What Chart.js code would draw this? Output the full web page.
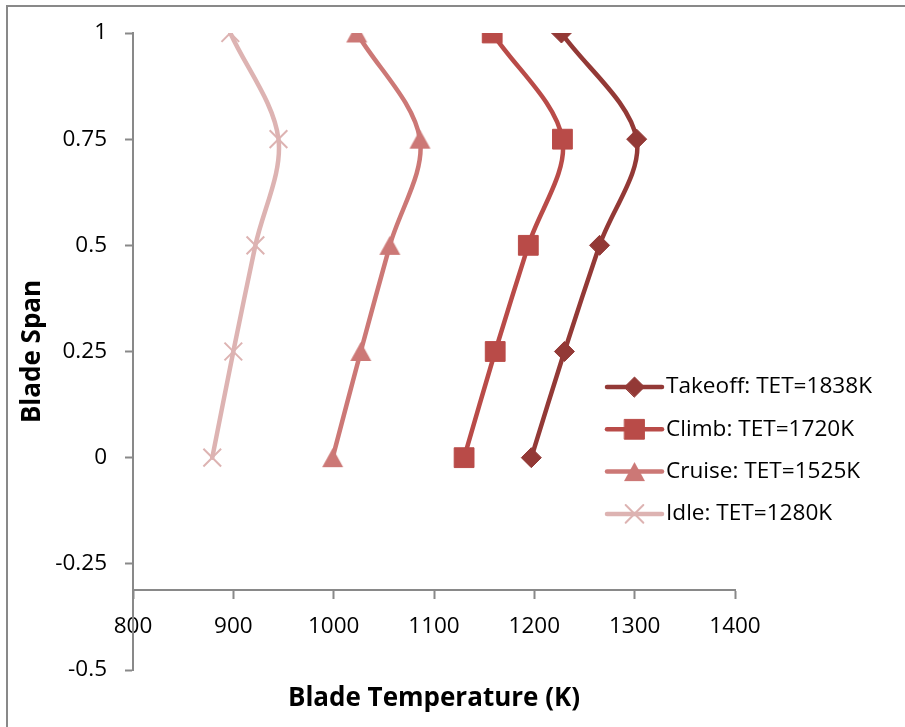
<!DOCTYPE html>
<html>
<head>
<meta charset="utf-8">
<script src="https://cdn.jsdelivr.net/npm/chart.js@4/dist/chart.umd.min.js"></script>
<style>
  html, body { margin: 0; padding: 0; background: #fff; overflow: hidden; }
  #wrap { position: relative; width: 905px; height: 727px; }
</style>
</head>
<body>
<div id="wrap"><canvas id="chart"></canvas></div>
<script>
// Blade span stations (fraction of span, hub = 0, tip = 1)
const spans = [0, 0.25, 0.5, 0.75, 1];

// Blade temperature (K) at each span station, per operating point
const takeoffTemp = [1197, 1230, 1265, 1302, 1227];
const climbTemp   = [1130, 1161, 1194, 1228, 1158];
const cruiseTemp  = [999, 1027, 1056, 1086, 1023];
const idleTemp    = [879, 900, 922, 945, 897];

const seriesNames = [
  'Takeoff: TET=1838K',
  'Climb: TET=1720K',
  'Cruise: TET=1525K',
  'Idle: TET=1280K'
];

// Axis ranges and tick spacing
const xMin = 800, xMax = 1400, xStep = 100;
const yMin = -0.5, yMax = 1, yStep = 0.25;
const xAxisCrossing = -0.3125;

const toPoints = (temps) => temps.map((t, i) => ({ x: t, y: spans[i] }));

// Triangle marker centred on its bounding box (not its centroid)
function triangleMarker(color, w, h) {
  const c = document.createElement('canvas');
  c.width = w + 2;
  c.height = h + 2;
  const g = c.getContext('2d');
  g.fillStyle = color;
  g.beginPath();
  g.moveTo(c.width / 2, 1);
  g.lineTo(c.width - 1, h + 1);
  g.lineTo(1, h + 1);
  g.closePath();
  g.fill();
  return c;
}

const styles = [
  { color: '#933936', pointStyle: 'rectRot', radius: 10, pbw: 1 },
  { color: '#B94B48', pointStyle: 'rect', radius: 14, pbw: 1 },
  { color: '#CC7876', pointStyle: triangleMarker('#CC7876', 21, 19), radius: 11, pbw: 1 },
  { color: '#DDB3B2', pointStyle: 'crossRot', radius: 12.5, pbw: 2 }
];
const seriesTemps = [takeoffTemp, climbTemp, cruiseTemp, idleTemp];

const datasets = seriesTemps.map((temps, i) => ({
  label: seriesNames[i],
  data: toPoints(temps),
  showLine: true,
  tension: 0.33,
  borderColor: styles[i].color,
  backgroundColor: styles[i].color,
  borderWidth: 4.5,
  borderCapStyle: 'round',
  borderJoinStyle: 'round',
  pointStyle: styles[i].pointStyle,
  pointRadius: styles[i].radius,
  pointHoverRadius: styles[i].radius,
  pointBackgroundColor: styles[i].color,
  pointBorderColor: styles[i].color,
  pointBorderWidth: styles[i].pbw
}));

// Gray frame around the chart
const framePlugin = {
  id: 'frame',
  beforeDraw(chart) {
    const ctx = chart.ctx;
    ctx.save();
    ctx.fillStyle = '#ffffff';
    ctx.fillRect(0, 0, chart.width, chart.height);
    ctx.strokeStyle = '#898989';
    ctx.lineWidth = 2;
    ctx.strokeRect(7, 6, chart.width + 20, chart.height + 20);
    ctx.restore();
  }
};

// Legend drawn inside the plot, lower right
const sideLegend = {
  id: 'sideLegend',
  afterDraw(chart) {
    const { ctx, chartArea } = chart;
    const x0 = chartArea.right - 128;
    const y0 = chartArea.top + 354;
    const rowGap = 42.3;
    const sampleLen = 55;
    ctx.save();
    chart.data.datasets.forEach((ds, i) => {
      const y = y0 + i * rowGap;
      ctx.strokeStyle = ds.borderColor;
      ctx.lineWidth = ds.borderWidth;
      ctx.lineCap = 'round';
      ctx.beginPath();
      ctx.moveTo(x0, y);
      ctx.lineTo(x0 + sampleLen, y);
      ctx.stroke();
      ctx.fillStyle = ds.pointBackgroundColor;
      ctx.strokeStyle = ds.pointBorderColor;
      ctx.lineWidth = ds.pointBorderWidth;
      Chart.helpers.drawPoint(ctx, {
        pointStyle: ds.pointStyle,
        radius: ds.pointRadius,
        borderWidth: ds.pointBorderWidth,
        rotation: 0
      }, x0 + sampleLen / 2, y);
      ctx.fillStyle = '#000000';
      ctx.font = '22.6px "Open Sans"';
      ctx.textAlign = 'left';
      ctx.textBaseline = 'middle';
      ctx.fillText(ds.label, x0 + sampleLen + 4, y);
    });
    ctx.restore();
  }
};

Chart.defaults.font.family = '"Open Sans", sans-serif';
Chart.defaults.color = '#000000';

new Chart(document.getElementById('chart'), {
  type: 'scatter',
  data: { datasets },
  options: {
    responsive: true,
    maintainAspectRatio: false,
    animation: false,
    layout: { padding: { left: 0, top: 33, right: 170, bottom: 57 } },
    plugins: {
      legend: { display: false },
      tooltip: { enabled: false }
    },
    scales: {
      x: {
        type: 'linear',
        position: { y: xAxisCrossing },
        min: xMin,
        max: xMax,
        ticks: {
          stepSize: xStep,
          padding: 15,
          font: { size: 22.5 },
          color: '#000',
          callback: (v) => String(v)
        },
        grid: { drawOnChartArea: false, drawTicks: true, tickLength: 8, tickColor: '#898989', tickWidth: 2 },
        border: { display: true, color: '#898989', width: 2 },
        title: {
          display: true,
          text: 'Blade Temperature (K)',
          font: { size: 26, weight: 'bold' },
          color: '#000',
          padding: { top: 28, bottom: 0 }
        }
      },
      y: {
        type: 'linear',
        position: 'left',
        min: yMin,
        max: yMax,
        ticks: {
          stepSize: yStep,
          padding: 18,
          font: { size: 22.5 },
          color: '#000',
          callback: (v) => String(Math.round(v * 100) / 100)
        },
        grid: { drawOnChartArea: false, drawTicks: true, tickLength: 8, tickColor: '#898989', tickWidth: 2 },
        border: { display: true, color: '#898989', width: 2 },
        title: {
          display: true,
          text: 'Blade Span',
          font: { size: 26, weight: 'bold' },
          color: '#000',
          padding: { top: 17, bottom: 0 }
        },
        afterFit(scale) { scale.width = 133; }
      }
    }
  },
  plugins: [framePlugin, sideLegend]
});
</script>
</body>
</html>
